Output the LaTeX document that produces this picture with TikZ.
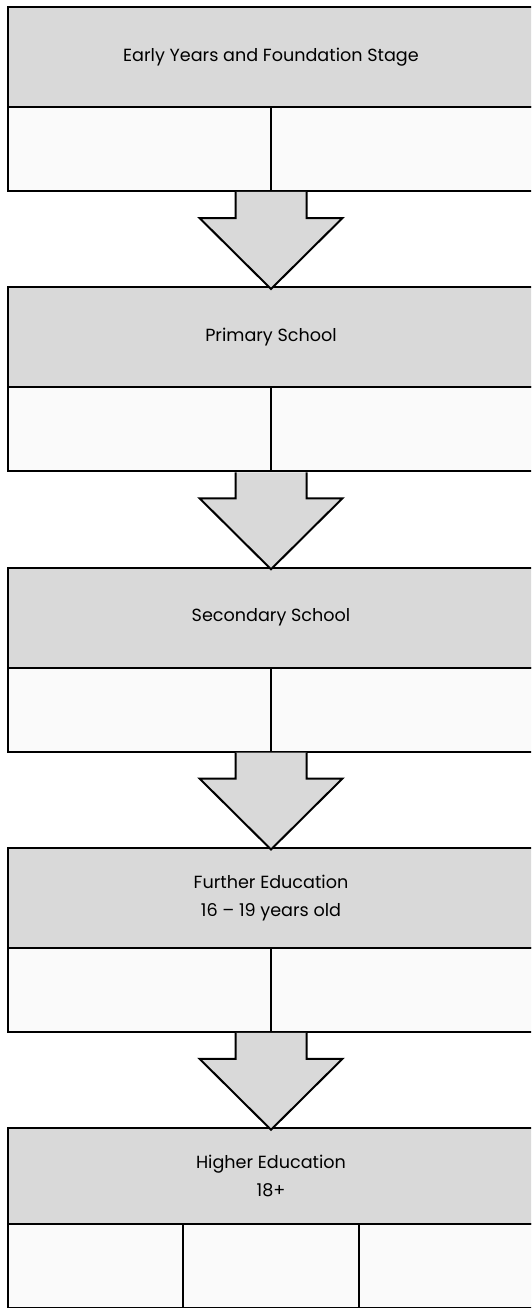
\documentclass[tikz,border=0pt]{standalone}
\usepackage{fontspec}
\setmainfont{Poppins}
\usetikzlibrary{positioning,calc}
\definecolor{hdrgrey}{HTML}{D9D9D9}
\definecolor{cellwhite}{HTML}{FAFAFA}
\tikzset{
	stage/.style = {draw, line width = 2pt, fill = hdrgrey, minimum width = 526pt,
			minimum height = 100pt, inner sep = 0pt, outer sep = 0pt, align = center,
			font = \fontsize{17.6}{28}\selectfont},
	halfcell/.style = {draw, line width = 2pt, fill = cellwhite, minimum width = 263pt,
			minimum height = 84pt, inner sep = 0pt, outer sep = 0pt},
	thirdcell/.style = {halfcell, minimum width = 175.33pt},
	blockarrow/.style = {draw, line width = 2pt, fill = hdrgrey, line join = miter}
}
\begin{document}
\begin{tikzpicture}[x = 1pt, y = -1pt]
	\useasboundingbox (0,0) rectangle (531,1308);
	\clip (0,0) rectangle (531,1308);
	% four stages with two cells
	\foreach \i/\txt in {1/{Early Years and Foundation Stage}, 2/{Primary School},
			3/{Secondary School}, 4/{Further Education\\16 -- 19 years old}}{
			\node (s\i)[stage, anchor = north west] at (8, {7 + 280.25*(\i - 1)}) {\txt};
			\node (s\i l)[halfcell, anchor = north west] at (s\i.south west) {};
			\node (s\i r)[halfcell, anchor = north west] at (s\i l.north east) {};
			\coordinate (m\i) at (s\i l.south east);
		}
	% last stage, three cells
	\node (s5)[stage, minimum height = 96pt, anchor = north west] at (8, 1128) {Higher Education\\18+};
	\node (s5a)[thirdcell, anchor = north west] at (s5.south west) {};
	\node (s5b)[thirdcell, anchor = north west] at (s5a.north east) {};
	\node (s5c)[thirdcell, anchor = north west] at (s5b.north east) {};

	% arrows between stages
	\foreach \i in {1,...,4}{
			\draw [blockarrow]($(m\i) + (-35.5, 1)$)--++(0, 26)--++(-36, 0)
			--++(71.5, 71)--++(71.5, -71)--++(-36, 0)--++(0, -26);
		}
\end{tikzpicture}
\end{document}
